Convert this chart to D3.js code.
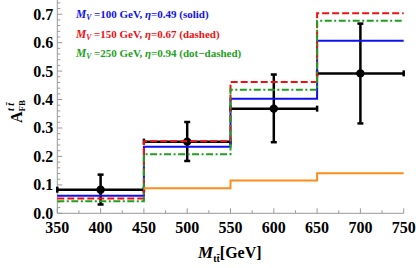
<!DOCTYPE html>
<html><head><meta charset="utf-8">
<script src="https://cdn.jsdelivr.net/npm/d3@7"></script>
<style>body{margin:0;background:#fff}svg{display:block}text{font-family:"Liberation Serif","Times New Roman",serif}</style>
</head><body><svg id="c" width="416" height="268"></svg>
<script>
const binEdges = [350, 450, 550, 650, 750];
const blueVals = [0.062, 0.234, 0.403, 0.607];
const redVals = [0.052, 0.253, 0.462, 0.703];
const greenVals = [0.042, 0.208, 0.434, 0.677];
const orangeEdges = [450, 550, 650, 750];
const orangeVals = [0.088, 0.115, 0.141];
const dataX = [400, 500, 600, 700];
const dataY = [0.083, 0.252, 0.368, 0.492];
const dataErrLo = [0.031, 0.184, 0.250, 0.316];
const dataErrHi = [0.136, 0.321, 0.488, 0.667];
const xTicks = [350, 400, 450, 500, 550, 600, 650, 700, 750];
const yTicks = [0.0, 0.1, 0.2, 0.3, 0.4, 0.5, 0.6, 0.7];
const legendLines = [
  {v: "100", eta: "0.49", style: "solid", color: "#1010f0"},
  {v: "150", eta: "0.67", style: "dashed", color: "#f01010"},
  {v: "250", eta: "0.94", style: "dot\u2212dashed", color: "#1ea01e"}
];

const svg = d3.select("#c");
const x = d3.scaleLinear().domain([350, 750]).range([57.3, 403.7]);
const y = d3.scaleLinear().domain([0, 0.75]).range([213.3, 0]);
const axisColor = "#999";

// axes
const xAxis = svg.append("g").attr("transform", `translate(0,${y(0)})`);
xAxis.append("line").attr("x1", x(350)).attr("x2", x(750)).attr("stroke", axisColor).attr("stroke-width", 1);
d3.range(350, 751, 25).forEach(v => {
  const major = v % 50 === 0;
  xAxis.append("line").attr("x1", x(v)).attr("x2", x(v)).attr("y1", 0).attr("y2", major ? -5 : -3)
    .attr("stroke", axisColor).attr("stroke-width", 1);
});
xAxis.selectAll("text.xt").data(xTicks).enter().append("text")
  .attr("x", d => x(d)).attr("y", 20).attr("text-anchor", "middle")
  .attr("font-size", 16).attr("font-weight", "bold").text(d => d);

const yAxis = svg.append("g").attr("transform", `translate(${x(350)},0)`);
yAxis.append("line").attr("y1", y(0)).attr("y2", y(0.75)).attr("stroke", axisColor).attr("stroke-width", 1);
d3.range(0, 38).forEach(i => {
  const v = i * 0.02;
  if (v > 0.75) return;
  const major = i % 5 === 0;
  yAxis.append("line").attr("x1", 0).attr("x2", major ? 5 : 3).attr("y1", y(v)).attr("y2", y(v))
    .attr("stroke", axisColor).attr("stroke-width", 1);
});
yAxis.selectAll("text.yt").data(yTicks).enter().append("text")
  .attr("x", -4).attr("y", d => y(d) + 5.5).attr("text-anchor", "end")
  .attr("font-size", 16).attr("font-weight", "bold").text(d => d.toFixed(1));

// data points with error bars
const dg = svg.append("g").attr("stroke", "#000").attr("stroke-width", 2.5);
dataX.forEach((dx, i) => {
  const x0 = x(dx - 50), x1 = x(dx + 50), cy = y(dataY[i]);
  dg.append("line").attr("x1", x0).attr("x2", x1).attr("y1", cy).attr("y2", cy);
  dg.append("line").attr("x1", x0).attr("x2", x0).attr("y1", cy - 3).attr("y2", cy + 3);
  dg.append("line").attr("x1", x1).attr("x2", x1).attr("y1", cy - 3).attr("y2", cy + 3);
  const cx = x(dx), t = y(dataErrHi[i]), b = y(dataErrLo[i]);
  dg.append("line").attr("x1", cx).attr("x2", cx).attr("y1", t).attr("y2", b);
  dg.append("line").attr("x1", cx - 3).attr("x2", cx + 3).attr("y1", t).attr("y2", t);
  dg.append("line").attr("x1", cx - 3).attr("x2", cx + 3).attr("y1", b).attr("y2", b);
  svg.append("circle").attr("cx", cx).attr("cy", cy).attr("r", 4.2).attr("fill", "#000");
});

function stepPath(edges, vals) {
  const pts = [];
  vals.forEach((v, i) => { pts.push([x(edges[i]), y(v)]); pts.push([x(edges[i + 1]), y(v)]); });
  return d3.line()(pts);
}
svg.append("path").attr("d", stepPath(binEdges, blueVals)).attr("fill", "none")
  .attr("stroke", legendLines[0].color).attr("stroke-width", 2);
svg.append("path").attr("d", stepPath(binEdges, redVals)).attr("fill", "none")
  .attr("stroke", legendLines[1].color).attr("stroke-width", 2).attr("stroke-dasharray", "7,3");
svg.append("path").attr("d", stepPath(binEdges, greenVals)).attr("fill", "none")
  .attr("stroke", legendLines[2].color).attr("stroke-width", 2).attr("stroke-dasharray", "7,2.5,2,2.5");
svg.append("path").attr("d", stepPath(orangeEdges, orangeVals)).attr("fill", "none")
  .attr("stroke", "#ff8c1a").attr("stroke-width", 2);

// legend text
legendLines.forEach((l, i) => {
  const t = svg.append("text").attr("x", 76).attr("y", 18 + i * 19.5)
    .attr("font-size", 11).attr("font-weight", "bold").attr("fill", l.color);
  t.append("tspan").attr("font-style", "italic").attr("font-size", 11.5).text("M");
  t.append("tspan").attr("font-style", "italic").attr("font-size", 7.5).attr("dy", 2).text("V");
  t.append("tspan").attr("dy", -2).text(" =" + l.v + " GeV, ");
  t.append("tspan").attr("font-style", "italic").text("\u03b7");
  t.append("tspan").text("=" + l.eta + " (" + l.style + ")");
});

// y label
const yl = svg.append("text").attr("transform", "translate(22,123) rotate(-90)")
  .attr("font-weight", "bold").attr("font-size", 16);
yl.append("tspan").text("A");
yl.append("tspan").attr("font-size", 9).attr("dy", 3).text("FB");
yl.append("tspan").attr("font-size", 10).attr("font-style", "italic").attr("dx", -11).attr("dy", -11).text("t t\u0304");

// x label
const xl = svg.append("text").attr("x", 198).attr("y", 258).attr("font-weight", "bold").attr("font-size", 17);
xl.append("tspan").attr("font-style", "italic").text("M");
xl.append("tspan").attr("font-size", 10).attr("dy", 4).text("tt\u0304");
xl.append("tspan").attr("dy", -4).attr("font-size", 16).text("[GeV]");
</script></body></html>
